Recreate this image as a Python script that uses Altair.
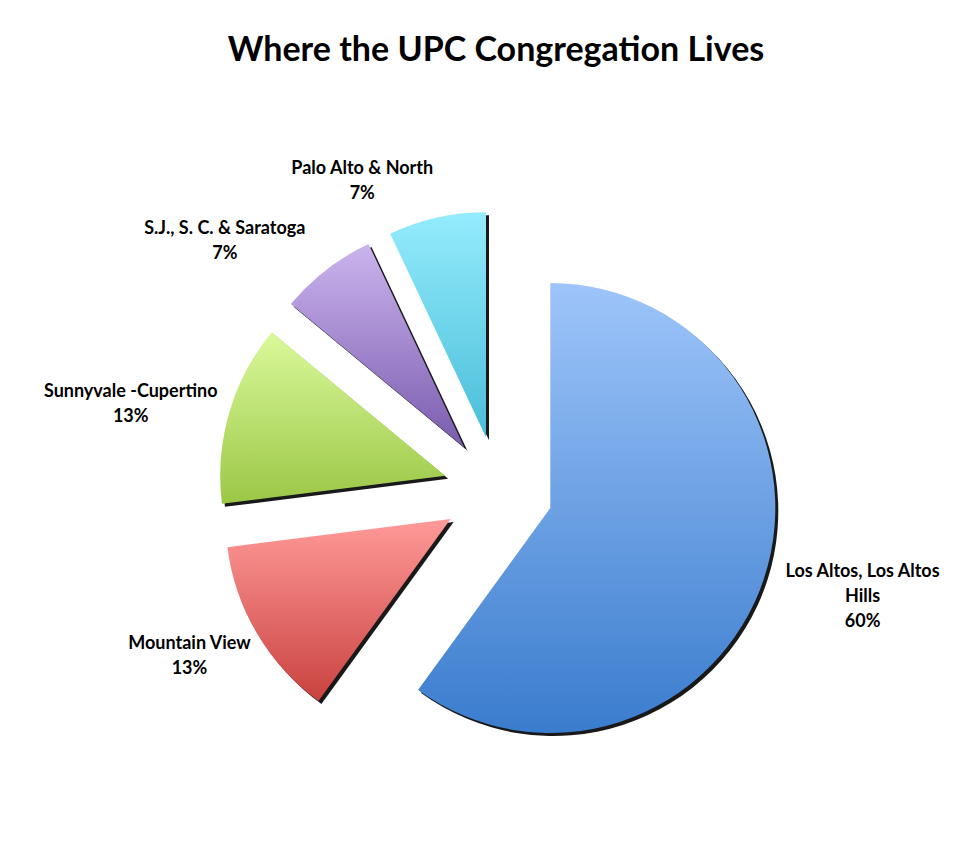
import math
import textwrap
import altair as alt
import pandas as pd

# ---- data ----
categories = [
    "Los Altos, Los Altos Hills",
    "Mountain View",
    "Sunnyvale -Cupertino",
    "S.J., S. C. & Saratoga",
    "Palo Alto & North",
]
shares = [60, 13, 13, 7, 7]
top_colors = ["#9EC5FA", "#FF9A98", "#DAF99B", "#CBB4EE", "#94ECFC"]
bottom_colors = ["#3A7CCD", "#C9423F", "#9BC746", "#7A5BAE", "#4ABDD9"]
title_text = "Where the UPC Congregation Lives"

# ---- layout constants ----
W, H = 956, 826
PAD_TOP = 75
CX, CY = 490, 408
RADIUS = 225
EXPLODE = 55
LABEL_R = 295
CHAR_W = 8.4
LINE_H = 25
SHADOW = 3
FONT = "Lato"

total = sum(shares)
lines = [textwrap.wrap(c, 22) + [f"{s}%"] for c, s in zip(categories, shares)]
df = pd.DataFrame({
    "order": list(range(len(categories))),
    "category": categories,
    "share": shares,
    "label": ["\n".join(l) for l in lines],
    "nlines": [len(l) for l in lines],
    "nchar": [max(len(x) for x in l) for l in lines],
})

base = (
    alt.Chart(df)
    .transform_window(cum="sum(share)", sort=[alt.SortField("order")], frame=[None, 0])
    .transform_calculate(
        s0="datum.cum - datum.share",
        s1="datum.cum",
    )
    .transform_calculate(ang=f"PI * (datum.s0 + datum.s1) / {total}")
    .transform_calculate(
        ex=f"{CX} + {EXPLODE} * sin(datum.ang)",
        ey=f"{CY} - {EXPLODE} * cos(datum.ang)",
        lx=f"{CX} + {LABEL_R} * sin(datum.ang) + (sin(datum.ang) >= 0 ? 1 : -1) * 0.5 * {CHAR_W} * datum.nchar",
        ly=(f"{CY} + 3 - {LABEL_R} * cos(datum.ang) - cos(datum.ang) * 0.5 * {LINE_H} * datum.nlines"
            f" - (datum.nlines - 1) * {LINE_H} / 2"),
    )
    .transform_calculate(
        sx=f"datum.ex + {SHADOW}",
        sy=f"datum.ey + {SHADOW}",
    )
)

theta_scale = alt.Scale(domain=[0, total], range=[0, 2 * math.pi])

shadow = base.mark_arc(radius=RADIUS, fill="black", fillOpacity=0.9).encode(
    theta=alt.Theta("s0:Q", scale=theta_scale, stack=None),
    theta2="s1:Q",
    x=alt.X("sx:Q", scale=None, axis=None),
    y=alt.Y("sy:Q", scale=None, axis=None),
)

slices = []
for cat, c_top, c_bot in zip(categories, top_colors, bottom_colors):
    grad = alt.LinearGradient(
        gradient="linear",
        stops=[alt.GradientStop(color=c_top, offset=0), alt.GradientStop(color=c_bot, offset=1)],
        x1=0, x2=0, y1=0, y2=1,
    )
    slices.append(
        base.transform_filter(alt.datum.category == cat)
        .mark_arc(radius=RADIUS, fill=grad)
        .encode(
            theta=alt.Theta("s0:Q", scale=theta_scale, stack=None),
            theta2="s1:Q",
            x=alt.X("ex:Q", scale=None, axis=None),
            y=alt.Y("ey:Q", scale=None, axis=None),
            tooltip=["category:N", "share:Q"],
        )
    )

labels = base.mark_text(
    font=FONT, fontSize=18, fontWeight="bold", lineBreak="\n", lineHeight=LINE_H,
    align="center", baseline="middle", color="black",
).encode(
    x=alt.X("lx:Q", scale=None, axis=None),
    y=alt.Y("ly:Q", scale=None, axis=None),
    text="label:N",
)

chart = (
    alt.layer(shadow, *slices, labels)
    .properties(
        width=W,
        height=H - PAD_TOP,
        autosize=alt.AutoSizeParams(type="none"),
        padding={"top": PAD_TOP, "left": 0, "right": 0, "bottom": 0},
        title=alt.TitleParams(
            title_text, font=FONT, fontSize=34, fontWeight="bold", color="black",
            anchor="middle", baseline="alphabetic", offset=0, dy=12, dx=10, frame="group",
        ),
    )
    .configure_view(stroke=None)
)

chart.save("out.html", embed_options={"renderer": "svg", "actions": False})
